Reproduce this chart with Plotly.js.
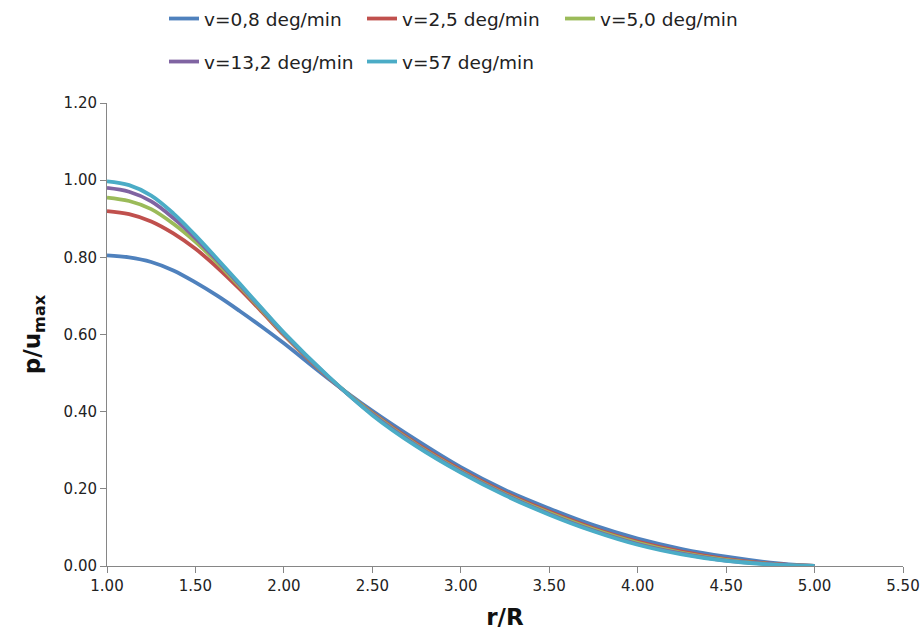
<!DOCTYPE html>
<html>
<head>
<meta charset="utf-8">
<script src="https://cdn.plot.ly/plotly-3.0.1.min.js"></script>
<style>
  html, body { margin: 0; padding: 0; background: #ffffff; }
  #chart { width: 920px; height: 644px; }
</style>
</head>
<body>
<div id="chart"></div>
<script>
// r/R sample positions
const rR = [1.0, 1.125, 1.25, 1.375, 1.5, 1.625, 1.75, 1.875, 2.0, 2.25, 2.5, 2.75, 3.0, 3.25, 3.5, 3.75, 4.0, 4.25, 4.5, 4.75, 5.0];

// p/u_max for each loading rate
const v08  = [0.805, 0.800, 0.788, 0.766, 0.735, 0.700, 0.661, 0.620, 0.577, 0.486, 0.402, 0.326, 0.256, 0.197, 0.149, 0.106, 0.071, 0.044, 0.024, 0.009, 0.0];
const v25  = [0.920, 0.912, 0.893, 0.862, 0.822, 0.773, 0.718, 0.659, 0.598, 0.489, 0.397, 0.317, 0.249, 0.190, 0.141, 0.098, 0.063, 0.037, 0.018, 0.006, 0.0];
const v50  = [0.955, 0.946, 0.925, 0.887, 0.840, 0.785, 0.725, 0.663, 0.601, 0.490, 0.395, 0.314, 0.246, 0.187, 0.138, 0.095, 0.060, 0.034, 0.016, 0.005, 0.0];
const v132 = [0.980, 0.970, 0.945, 0.902, 0.850, 0.791, 0.729, 0.666, 0.603, 0.491, 0.393, 0.312, 0.244, 0.185, 0.135, 0.092, 0.057, 0.032, 0.014, 0.005, 0.0];
const v57  = [0.997, 0.987, 0.960, 0.914, 0.857, 0.795, 0.732, 0.668, 0.605, 0.492, 0.391, 0.310, 0.242, 0.183, 0.133, 0.090, 0.055, 0.030, 0.013, 0.004, 0.0];

const seriesNames = ["v=0,8 deg/min", "v=2,5 deg/min", "v=5,0 deg/min", "v=13,2 deg/min", "v=57 deg/min"];
const seriesData = [v08, v25, v50, v132, v57];
const seriesColors = ["#4F81BD", "#C0504D", "#9BBB59", "#8064A2", "#4BACC6"];
const legendIds = ["legend", "legend", "legend", "legend2", "legend2"];

const xTicks = [1.0, 1.5, 2.0, 2.5, 3.0, 3.5, 4.0, 4.5, 5.0, 5.5];
const yTicks = [0.0, 0.2, 0.4, 0.6, 0.8, 1.0, 1.2];

const traces = seriesData.map((ys, i) => ({
  x: rR,
  y: ys,
  type: "scatter",
  mode: "lines",
  name: seriesNames[i],
  legend: legendIds[i],
  line: { color: seriesColors[i], width: 3.8, shape: "spline", smoothing: 1 }
}));

const FONT = "DejaVu Sans, Arial, sans-serif";
const legendCommon = {
  orientation: "h",
  xref: "container", yref: "container",
  x: 164 / 920, xanchor: "left",
  yanchor: "middle",
  entrywidth: 153, entrywidthmode: "pixels",
  font: { family: FONT, size: 18.5, color: "#222" },
  bgcolor: "rgba(0,0,0,0)",
  itemclick: false
};

const layout = {
  width: 920, height: 644,
  margin: { l: 107, r: 17, t: 103, b: 78 },
  paper_bgcolor: "#ffffff",
  plot_bgcolor: "#ffffff",
  showlegend: true,
  legend: Object.assign({}, legendCommon, { y: 1 - 19 / 644 }),
  legend2: Object.assign({}, legendCommon, { y: 1 - 62 / 644 }),
  xaxis: {
    range: [1.0, 5.5],
    tickmode: "array", tickvals: xTicks,
    tickformat: ".2f",
    showgrid: false, zeroline: false,
    showline: true, linecolor: "#868686", linewidth: 1,
    ticks: "outside", ticklen: 6, tickcolor: "#868686",
    tickfont: { family: FONT, size: 15, color: "#222" },
    title: { text: "r/R", font: { family: FONT, size: 23, color: "#111", weight: "bold" }, standoff: 14 }
  },
  yaxis: {
    range: [0, 1.2],
    tickmode: "array", tickvals: yTicks,
    tickformat: ".2f",
    showgrid: false, zeroline: false,
    showline: true, linecolor: "#868686", linewidth: 1,
    ticks: "outside", ticklen: 6, tickcolor: "#868686",
    tickfont: { family: FONT, size: 15, color: "#222" },
    title: { text: "p/u<sub>max</sub>", font: { family: FONT, size: 23, color: "#111", weight: "bold" }, standoff: 16 }
  }
};

Plotly.newPlot("chart", traces, layout, { displayModeBar: false, staticPlot: true });
</script>
</body>
</html>
